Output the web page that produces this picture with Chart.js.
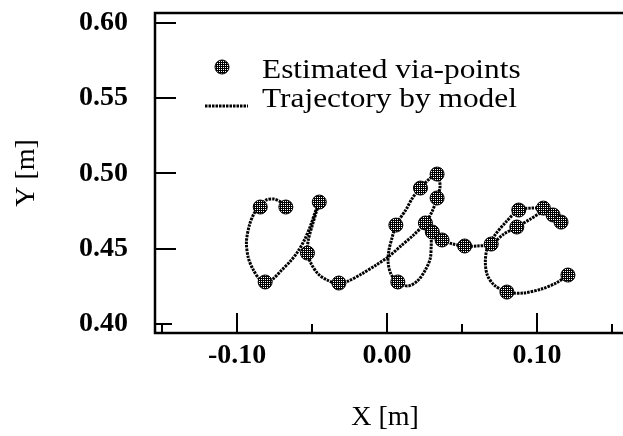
<!DOCTYPE html>
<html>
<head>
<meta charset="utf-8">
<script src="https://cdn.jsdelivr.net/npm/chart.js@4.4.0/dist/chart.umd.min.js"></script>
<style>
  html, body { margin: 0; padding: 0; background: #fff; overflow: hidden; }
</style>
</head>
<body>
<canvas id="abcChart" width="623" height="436"></canvas>
<script>
// Estimated via-points of the handwritten "abc" (metres)
const viaX = [-0.0675, -0.0846, -0.0813, -0.0452, -0.0531, -0.0321,
  0.0256, 0.0334, 0.0334, 0.0223, 0.0059, 0.0072, 0.0302, 0.0367, 0.0518,
  0.0695, 0.0866, 0.0879, 0.1043, 0.1108, 0.1161, 0.1207, 0.0800];
const viaY = [0.4777, 0.4777, 0.4279, 0.4810, 0.4471, 0.4272,
  0.4671, 0.4837, 0.4996, 0.4903, 0.4657, 0.4279, 0.4611, 0.4558, 0.4518,
  0.4531, 0.4644, 0.4757, 0.4770, 0.4724, 0.4677, 0.4325, 0.4212];

// Trajectory generated by the model (a, b, c in one stroke)
const trajX = [
  -0.0675, -0.0708, -0.0754, -0.0807, -0.0846, -0.0885, -0.0918, -0.0938, -0.0925, -0.0892,
  -0.0852, -0.0813, -0.0761, -0.0702, -0.0649, -0.0597, -0.0551, -0.0511, -0.0479, -0.0452,
  -0.0472, -0.0498, -0.0525, -0.0531, -0.0505, -0.0459, -0.0400, -0.0321,
  -0.0256, -0.0170, -0.0072, 0.0007, 0.0092, 0.0177, 0.0256, 0.0302, 0.0334, 0.0354,
  0.0334, 0.0282, 0.0223, 0.0170, 0.0125, 0.0079, 0.0059, 0.0033, 0.0013, 0.0007,
  0.0026, 0.0072, 0.0138, 0.0203, 0.0256, 0.0289, 0.0295, 0.0302, 0.0367, 0.0439, 0.0518,
  0.0603, 0.0695, 0.0780, 0.0866, 0.0957, 0.1043, 0.1108, 0.1161, 0.1095, 0.1043,
  0.0964, 0.0879, 0.0793, 0.0715, 0.0669, 0.0656, 0.0669, 0.0715, 0.0800, 0.0911,
  0.1030, 0.1128, 0.1207];
const trajY = [
  0.4777, 0.4810, 0.4830, 0.4823, 0.4777, 0.4737, 0.4657, 0.4544, 0.4438, 0.4359,
  0.4299, 0.4272, 0.4299, 0.4359, 0.4412, 0.4478, 0.4558, 0.4651, 0.4744, 0.4810,
  0.4744, 0.4657, 0.4558, 0.4471, 0.4398, 0.4332, 0.4292, 0.4266,
  0.4286, 0.4332, 0.4392, 0.4445, 0.4518, 0.4591, 0.4671, 0.4750, 0.4837, 0.4916,
  0.4996, 0.4963, 0.4903, 0.4837, 0.4757, 0.4691, 0.4657, 0.4571, 0.4491, 0.4412,
  0.4332, 0.4279, 0.4252, 0.4286, 0.4359, 0.4438, 0.4525, 0.4611, 0.4558, 0.4531, 0.4518,
  0.4518, 0.4531, 0.4598, 0.4644, 0.4697, 0.4744, 0.4724, 0.4677, 0.4757, 0.4770,
  0.4770, 0.4757, 0.4677, 0.4584, 0.4505, 0.4412, 0.4325, 0.4259, 0.4212, 0.4206,
  0.4232, 0.4272, 0.4325];

const xMajorTicks = [-0.10, 0.00, 0.10];
const xMinorTicks = [-0.15, -0.05, 0.05, 0.15];
const xTickLabels = ['-0.10', '0.00', '0.10'];
const yTicks = [0.40, 0.45, 0.50, 0.55, 0.60];
const yTickLabels = ['0.40', '0.45', '0.50', '0.55', '0.60'];

const serif = '"Liberation Serif", "Times New Roman", serif';

const canvas = document.getElementById('abcChart');
const ctx = canvas.getContext('2d');

// halftone fill for the via-point dots
function halftone() {
  const tile = document.createElement('canvas');
  tile.width = 2; tile.height = 2;
  const g = tile.getContext('2d');
  g.fillStyle = '#000';
  g.fillRect(0, 0, 2, 2);
  g.fillStyle = '#fff';
  g.fillRect(1, 1, 1, 1);
  return ctx.createPattern(tile, 'repeat');
}
const dotFill = halftone();

// open frame (left, top, bottom) and inward tick marks
const frameTicks = {
  id: 'frameTicks',
  afterDraw(chart) {
    const { ctx, chartArea: a, scales: { x, y } } = chart;
    ctx.save();
    ctx.strokeStyle = '#000';
    ctx.lineWidth = 2.5;
    ctx.beginPath();
    ctx.moveTo(chart.width, a.top);
    ctx.lineTo(a.left, a.top);
    ctx.lineTo(a.left, a.bottom);
    ctx.lineTo(chart.width, a.bottom);
    ctx.stroke();

    ctx.lineWidth = 2;
    ctx.beginPath();
    xMajorTicks.forEach(v => {
      const px = Math.round(x.getPixelForValue(v));
      ctx.moveTo(px, a.bottom); ctx.lineTo(px, a.bottom - 20);
    });
    xMinorTicks.forEach(v => {
      const px = Math.round(x.getPixelForValue(v));
      ctx.moveTo(px, a.bottom); ctx.lineTo(px, a.bottom - 9);
    });
    yTicks.forEach((v, i) => {
      const py = Math.round(y.getPixelForValue(v));
      ctx.moveTo(a.left, py); ctx.lineTo(a.left + (i === 0 ? 17 : 21), py);
    });
    ctx.stroke();
    ctx.restore();
  }
};

// legend sits inside the plot, upper left
const insideLegend = {
  id: 'insideLegend',
  afterDatasetsDraw(chart) {
    const { ctx, chartArea: a } = chart;
    const via = chart.data.datasets[0];
    const traj = chart.data.datasets[1];
    const x0 = a.left, y0 = a.top;
    ctx.save();

    ctx.beginPath();
    ctx.arc(x0 + 67, y0 + 54, 7, 0, Math.PI * 2);
    ctx.fillStyle = via.pointBackgroundColor;
    ctx.fill();
    ctx.lineWidth = 1;
    ctx.strokeStyle = '#000';
    ctx.stroke();

    ctx.setLineDash(traj.borderDash);
    ctx.lineWidth = traj.borderWidth;
    ctx.strokeStyle = traj.borderColor;
    ctx.beginPath();
    ctx.moveTo(x0 + 50, y0 + 93);
    ctx.lineTo(x0 + 93, y0 + 93);
    ctx.stroke();
    ctx.setLineDash([]);

    ctx.fillStyle = '#000';
    ctx.font = '28px ' + serif;
    ctx.textBaseline = 'alphabetic';
    [[via.label, y0 + 65], [traj.label, y0 + 94]].forEach(([txt, ty]) => {
      ctx.save();
      ctx.translate(x0 + 107, ty);
      ctx.scale(1.12, 1);
      ctx.fillText(txt, 0, 0);
      ctx.restore();
    });
    ctx.restore();
  }
};

new Chart(ctx, {
  type: 'scatter',
  data: {
    datasets: [
      {
        label: 'Estimated via-points',
        data: viaX.map((x, i) => ({ x, y: viaY[i] })),
        pointRadius: 7,
        pointBackgroundColor: dotFill,
        pointBorderColor: '#000',
        pointBorderWidth: 1,
        showLine: false,
        order: 0
      },
      {
        label: 'Trajectory by model',
        data: trajX.map((x, i) => ({ x, y: trajY[i] })),
        showLine: true,
        pointRadius: 0,
        borderColor: '#000',
        borderWidth: 3,
        borderDash: [2.5, 1],
        tension: 0.3,
        order: 1
      }
    ]
  },
  options: {
    responsive: false,
    animation: false,
    layout: { padding: { top: 13, right: 0, left: 0, bottom: 0 } },
    plugins: { legend: { display: false }, tooltip: { enabled: false } },
    scales: {
      x: {
        type: 'linear',
        min: -0.1548,
        max: 0.1521,
        border: { display: false },
        grid: { display: false, drawTicks: false },
        afterBuildTicks: s => { s.ticks = xMajorTicks.map(v => ({ value: v })); },
        afterFit: s => { s.height = 103; s.paddingLeft = 0; s.paddingRight = 0; },
        ticks: {
          autoSkip: false,
          maxRotation: 0,
          padding: 6,
          color: '#000',
          font: { family: serif, size: 28, weight: 'bold' },
          callback: (v, i) => xTickLabels[i]
        },
        title: {
          display: true,
          text: 'X [m]',
          color: '#000',
          font: { family: serif, size: 28 },
          padding: { top: 0, bottom: 2 }
        }
      },
      y: {
        type: 'linear',
        min: 0.394,
        max: 0.6066,
        border: { display: false },
        grid: { display: false, drawTicks: false },
        afterBuildTicks: s => { s.ticks = yTicks.map(v => ({ value: v })); },
        afterFit: s => { s.width = 155; s.paddingTop = 0; s.paddingBottom = 0; },
        ticks: {
          autoSkip: false,
          padding: 27,
          color: '#000',
          font: { family: serif, size: 28, weight: 'bold' },
          callback: (v, i) => yTickLabels[i]
        },
        title: {
          display: true,
          text: 'Y [m]',
          color: '#000',
          font: { family: serif, size: 28 },
          padding: { top: 10, bottom: 0 }
        }
      }
    }
  },
  plugins: [frameTicks, insideLegend]
});
</script>
</body>
</html>
